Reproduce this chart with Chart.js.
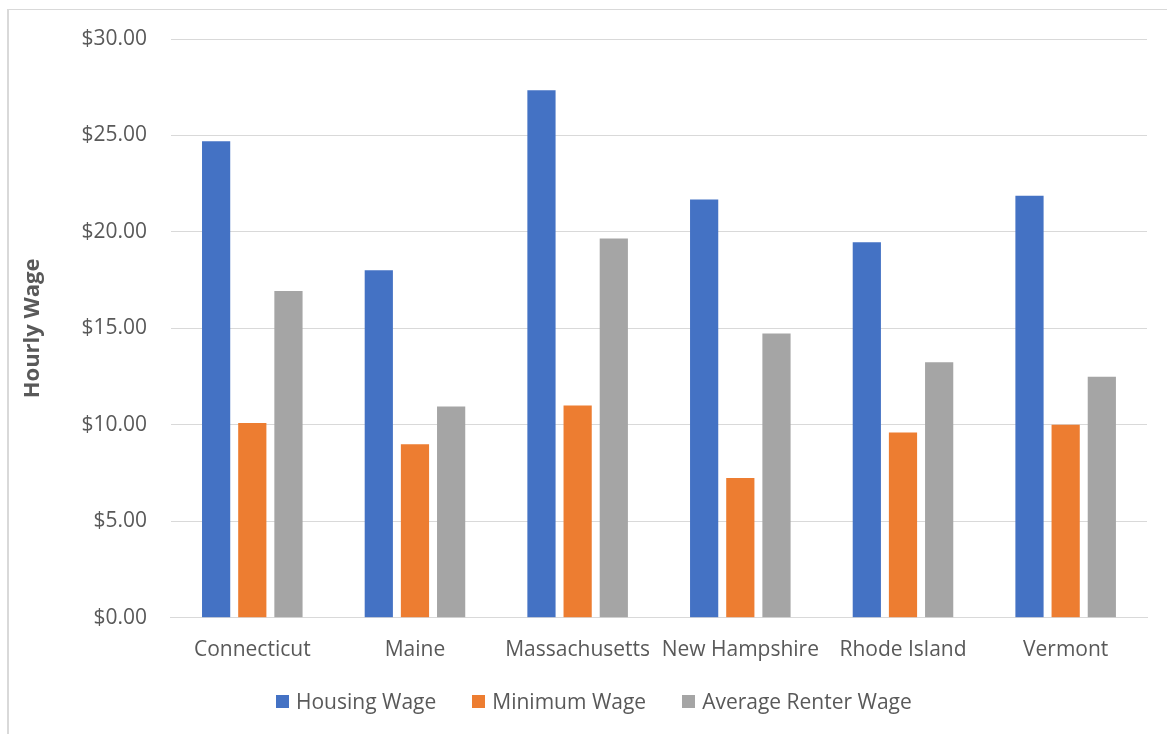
<!DOCTYPE html>
<html>
<head>
<meta charset="utf-8">
<script src="https://cdn.jsdelivr.net/npm/chart.js@4.4.1/dist/chart.umd.min.js"></script>
<style>
  html, body { margin: 0; padding: 0; background: #ffffff; overflow: hidden; }
  #frame { position: absolute; left: 7px; top: 9px; right: 0; bottom: 0; border-top: 1px solid #d9d9d9; border-left: 2px solid #d9d9d9; }
  #wrap { position: absolute; left: 0; top: 0; width: 1167px; height: 734px; }
  #legend { position: absolute; left: 276px; top: 688px; height: 26px; display: flex; align-items: center;
            font-family: 'Open Sans', 'DejaVu Sans', sans-serif; font-size: 21px; color: #595959; white-space: nowrap; }
  #legend .item { display: flex; align-items: center; margin-right: 36px; }
  #legend .box { width: 13px; height: 13px; margin-right: 7px; }
</style>
</head>
<body>
<div id="frame"></div>
<div id="wrap"><canvas id="chart" width="1167" height="734"></canvas></div>
<div id="legend"></div>
<script>
// New England states and hourly wage figures
const states = ['Connecticut', 'Maine', 'Massachusetts', 'New Hampshire', 'Rhode Island', 'Vermont'];
const housingWage = [24.70, 18.02, 27.35, 21.68, 19.47, 21.87];
const minimumWage = [10.10, 9.00, 11.00, 7.25, 9.60, 10.00];
const renterWage = [16.94, 10.95, 19.66, 14.73, 13.24, 12.49];
const yTicks = [0, 5, 10, 15, 20, 25, 30];

const FONT = "'Open Sans', 'DejaVu Sans', sans-serif";
const TEXT = '#595959';
const GRID = '#d9d9d9';

const chart = new Chart(document.getElementById('chart'), {
  type: 'bar',
  data: {
    labels: states,
    datasets: [
      { label: 'Housing Wage', data: housingWage, backgroundColor: '#4472c4' },
      { label: 'Minimum Wage', data: minimumWage, backgroundColor: '#ed7d31' },
      { label: 'Average Renter Wage', data: renterWage, backgroundColor: '#a5a5a5' }
    ]
  },
  options: {
    responsive: false,
    animation: false,
    events: [],
    datasets: { bar: { categoryPercentage: 0.667, barPercentage: 0.78 } },
    layout: { padding: { left: 20, right: 20, top: 39, bottom: 59 } },
    plugins: {
      tooltip: { enabled: false },
      legend: { display: false }
    },
    scales: {
      x: {
        grid: { display: false },
        border: { display: true, color: GRID, width: 1 },
        ticks: { color: TEXT, font: { family: FONT, size: 21 }, padding: 12, maxRotation: 0 }
      },
      y: {
        min: 0,
        max: 30,
        afterBuildTicks: (scale) => { scale.ticks = yTicks.map(v => ({ value: v })); },
        grid: { color: GRID, lineWidth: 1, drawTicks: false },
        border: { display: false },
        ticks: {
          color: TEXT,
          font: { family: FONT, size: 21 },
          padding: 24,
          callback: (v) => '$' + Number(v).toFixed(2)
        },
        title: {
          display: true,
          text: 'Hourly Wage',
          color: TEXT,
          font: { family: FONT, size: 22, weight: 'bold' },
          padding: { top: 0, bottom: 11 }
        }
      }
    }
  }
});

// Legend row built from the chart's own datasets
const legend = document.getElementById('legend');
chart.data.datasets.forEach((ds) => {
  const item = document.createElement('div');
  item.className = 'item';
  const box = document.createElement('span');
  box.className = 'box';
  box.style.background = ds.backgroundColor;
  const label = document.createElement('span');
  label.textContent = ds.label;
  item.appendChild(box);
  item.appendChild(label);
  legend.appendChild(item);
});
</script>
</body>
</html>
